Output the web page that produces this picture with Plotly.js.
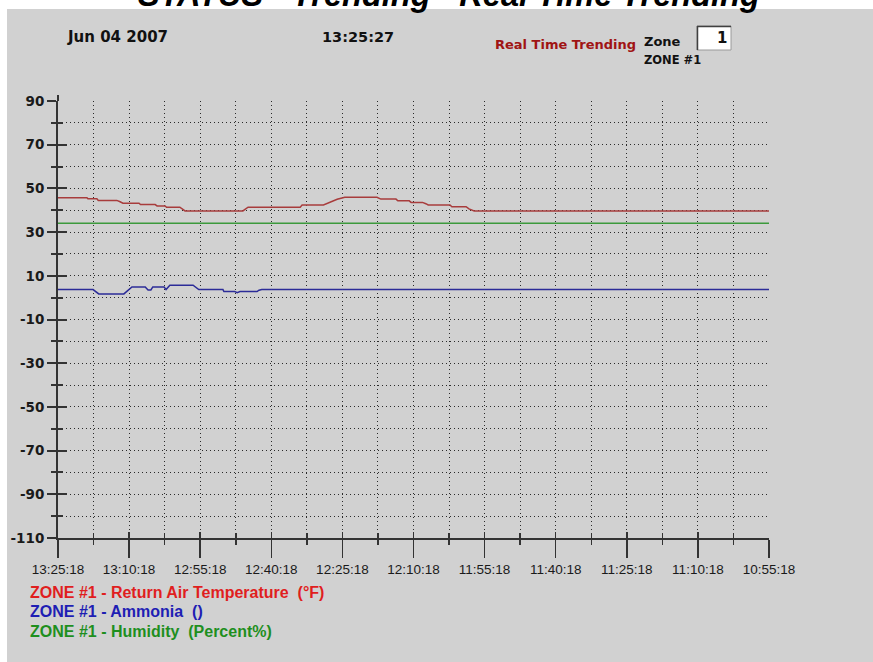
<!DOCTYPE html>
<html>
<head>
<meta charset="utf-8">
<script src="https://cdn.plot.ly/plotly-3.0.1.min.js"></script>
<style>html,body{margin:0;padding:0;background:#fff;}#chart{width:873px;height:662px;}</style>
</head>
<body>
<div id="chart"></div>
<script>
// ---- data (minutes before 13:25:18, value) ----
const tempMinutes = [0, 6.1, 6.3, 8.2, 8.5, 12.4, 13.1, 13.7, 17.1, 17.4, 20.5, 20.9, 22.6, 22.9, 25.7, 26.2, 26.8, 39.0, 39.5, 40.1, 51.1, 51.5, 56.0, 56.8, 57.8, 58.9, 60.5, 67.3, 68.1, 71.3, 71.7, 74.1, 74.5, 76.9, 77.6, 78.1, 82.7, 83.1, 86.1, 86.7, 87.8, 150];
const tempValues  = [45.7, 45.7, 45.3, 45.3, 44.5, 44.5, 43.9, 43.2, 43.2, 42.6, 42.6, 42.0, 42.0, 41.4, 41.4, 40.5, 39.7, 39.7, 40.5, 41.4, 41.4, 42.4, 42.4, 43.1, 43.9, 45.0, 45.9, 45.9, 45.1, 45.1, 44.3, 44.3, 43.6, 43.6, 43.0, 42.4, 42.4, 41.6, 41.6, 40.6, 39.7, 39.7];

const ammoniaMinutes = [0, 7.4, 8.6, 13.9, 15.6, 18.4, 19.0, 19.6, 20.0, 22.4, 22.8, 23.6, 28.5, 29.1, 29.7, 34.8, 35.0, 37.3, 37.8, 38.4, 42.0, 42.4, 43.0, 150];
const ammoniaValues  = [3.7, 3.7, 1.7, 1.7, 4.9, 4.9, 3.5, 3.5, 4.9, 4.9, 3.7, 5.7, 5.7, 4.6, 3.7, 3.7, 2.8, 2.8, 2.3, 2.8, 2.8, 3.4, 3.7, 3.7];

const humidityMinutes = [0, 150];
const humidityValues  = [34, 34];

const xTickLabels = ['13:25:18','13:10:18','12:55:18','12:40:18','12:25:18','12:10:18','11:55:18','11:40:18','11:25:18','11:10:18','10:55:18'];
const yTickLabels = [90, 70, 50, 30, 10, -10, -30, -50, -70, -90, -110];
const yMinorTicks = [80, 60, 40, 20, 0, -20, -40, -60, -80, -100];

const seriesNames = ['ZONE #1 - Return Air Temperature  (°F)', 'ZONE #1 - Ammonia  ()', 'ZONE #1 - Humidity  (Percent%)'];

// ---- layout helpers ----
const L = 58, R = 769, T = 101, B = 538, W = 873, H = 662;
const px = x => (x - L) / (R - L);
const py = y => (B - y) / (B - T);

const xTickVals = xTickLabels.map((_, i) => i * 15);
const xMinorVals = xTickLabels.slice(1).map((_, i) => i * 15 + 7.5);

const gridDash = '1px,3px';
const gridColor = '#2a2a2a';
const axColor = '#333';

const traces = [
  {x: tempMinutes, y: tempValues, mode: 'lines', line: {color: '#a83c3c', width: 1.5}, name: seriesNames[0], hoverinfo: 'skip'},
  {x: ammoniaMinutes, y: ammoniaValues, mode: 'lines', line: {color: '#2c2c98', width: 1.5}, name: seriesNames[1], hoverinfo: 'skip'},
  {x: humidityMinutes, y: humidityValues, mode: 'lines', line: {color: '#3c9a3c', width: 1.5}, name: seriesNames[2], hoverinfo: 'skip'},
  {x: [], y: [], xaxis: 'x2', yaxis: 'y2', mode: 'lines', showlegend: false, hoverinfo: 'skip'}
];

const headFont = (size, color) => ({family: 'DejaVu Sans, Liberation Sans, Arial', size: size, color: color || '#111', weight: 'bold'});
const ann = (text, x, y, font, xanchor) => ({text, x: px(x), y: py(y), xref: 'paper', yref: 'paper', showarrow: false, xanchor: xanchor || 'left', yanchor: 'middle', font, borderpad: 0});

const legendColors = ['#e01e1e', '#1e1eb4', '#1e8f1e'];
const legendY = [592, 611, 631];

const annotations = [
  ann('<b><i>STATUS - Trending - Real Time Trending</i></b>', 449, -5, {family: 'Liberation Sans, Arial', size: 32.5, color: '#000'}, 'center'),
  ann('Jun 04 2007', 66, 37, headFont(15)),
  ann('13:25:27', 321, 37, headFont(14.5)),
  ann('Real Time Trending', 494, 45, headFont(13, '#a01414')),
  ann('Zone', 643, 41, headFont(13)),
  ann('ZONE #1', 643, 60, headFont(11.5)),
  ann('1', 728, 38, headFont(15), 'right')
].concat(seriesNames.map((n, i) => ann(n, 29, legendY[i], {family: 'Liberation Sans, Arial', size: 16, color: legendColors[i], weight: 'bold'})));

const shapes = [
  // white strip at top and left
  {type: 'rect', xref: 'paper', yref: 'paper', x0: px(0), x1: px(W), y0: py(9), y1: py(0), fillcolor: '#fff', line: {width: 0}, layer: 'below'},
  {type: 'rect', xref: 'paper', yref: 'paper', x0: px(0), x1: px(7), y0: py(H), y1: py(0), fillcolor: '#fff', line: {width: 0}, layer: 'below'},
  // zone number box
  {type: 'rect', xref: 'paper', yref: 'paper', x0: px(697), x1: px(731), y0: py(50), y1: py(26), fillcolor: '#fff', line: {color: '#9a9a9a', width: 1}, layer: 'below'},
  {type: 'line', xref: 'paper', yref: 'paper', x0: px(697), x1: px(731), y0: py(26.5), y1: py(26.5), line: {color: '#404040', width: 1.5}},
  {type: 'line', xref: 'paper', yref: 'paper', x0: px(697.5), x1: px(697.5), y0: py(26), y1: py(50), line: {color: '#404040', width: 1.5}},
  // y axis line extension above the top
  {type: 'line', xref: 'paper', yref: 'paper', x0: 0, x1: 0, y0: 1, y1: py(95), line: {color: axColor, width: 2}}
];

const layout = {
  width: W, height: H, autosize: false,
  margin: {l: L, r: W - R, t: T, b: H - B, pad: 0},
  paper_bgcolor: '#d1d1d1',
  plot_bgcolor: 'rgba(0,0,0,0)',
  showlegend: false,
  xaxis: {
    range: [0, 150], tickmode: 'array', tickvals: xTickVals, ticktext: xTickLabels,
    ticks: 'outside', ticklen: 18, tickwidth: 1.5, tickcolor: axColor,
    showline: true, linecolor: axColor, linewidth: 2,
    showgrid: true, gridcolor: gridColor, gridwidth: 1, griddash: gridDash, zeroline: false,
    tickfont: {family: 'Liberation Sans, Arial', size: 13.5, color: '#1a1a1a'},
    minor: {tickmode: 'array', tickvals: xMinorVals, ticks: 'outside', ticklen: 5, tickwidth: 1.5, tickcolor: axColor, showgrid: true, gridcolor: gridColor, gridwidth: 1, griddash: gridDash},
    fixedrange: true
  },
  yaxis: {
    range: [-110, 90], tickmode: 'array', tickvals: yTickLabels, ticktext: yTickLabels.map(String),
    ticks: 'outside', ticklen: 9, tickwidth: 2, tickcolor: axColor,
    showline: true, linecolor: axColor, linewidth: 2,
    showgrid: true, gridcolor: gridColor, gridwidth: 1, griddash: gridDash, zeroline: false,
    tickfont: {family: 'DejaVu Sans, Liberation Sans, Arial', size: 13.5, color: '#1a1a1a', weight: 'bold'},
    minor: {tickmode: 'array', tickvals: yMinorTicks, ticks: 'outside', ticklen: 5, tickwidth: 2, tickcolor: axColor, showgrid: true, gridcolor: gridColor, gridwidth: 1, griddash: gridDash},
    fixedrange: true
  },
  xaxis2: {
    overlaying: 'x', anchor: 'y', range: [0, 150], tickmode: 'array', tickvals: xTickVals,
    ticks: 'inside', ticklen: 6, tickwidth: 1.5, tickcolor: axColor, showticklabels: false,
    showgrid: false, showline: false, zeroline: false,
    minor: {tickmode: 'array', tickvals: xMinorVals, ticks: 'inside', ticklen: 5, tickwidth: 1.5, tickcolor: axColor, showgrid: false},
    fixedrange: true
  },
  yaxis2: {
    overlaying: 'y', anchor: 'x', range: [-110, 90], tickmode: 'array', tickvals: yTickLabels,
    ticks: 'inside', ticklen: 9, tickwidth: 2, tickcolor: axColor, showticklabels: false,
    showgrid: false, showline: false, zeroline: false,
    minor: {tickmode: 'array', tickvals: yMinorTicks, ticks: 'inside', ticklen: 5, tickwidth: 2, tickcolor: axColor, showgrid: false},
    fixedrange: true
  },
  annotations: annotations,
  shapes: shapes
};

Plotly.newPlot('chart', traces, layout, {displayModeBar: false, staticPlot: true});
</script>
</body>
</html>
